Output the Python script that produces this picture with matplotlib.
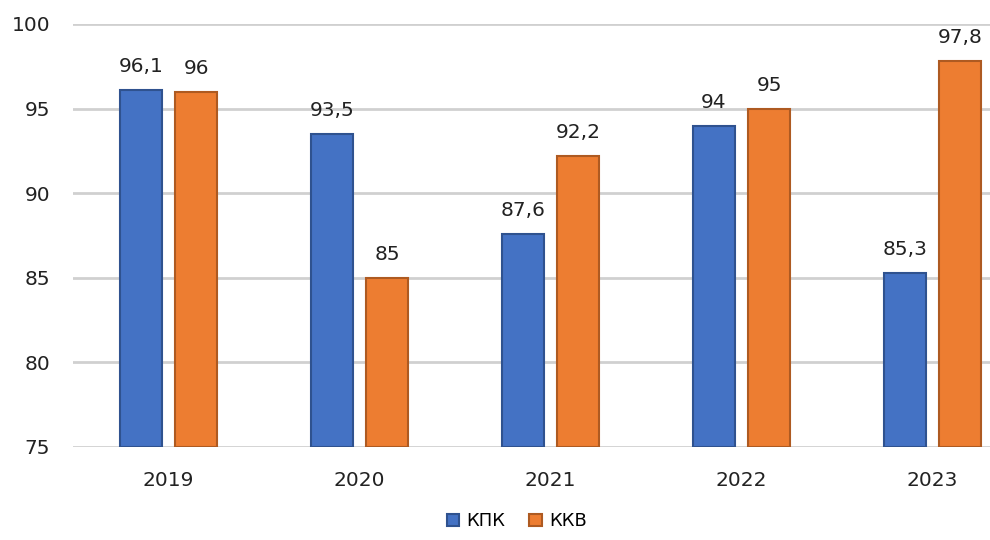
import matplotlib.pyplot as plt
import numpy as np

years = ["2019", "2020", "2021", "2022", "2023"]
kpk = [96.1, 93.5, 87.6, 94, 85.3]
kkv = [96, 85, 92.2, 95, 97.8]
yticks = [75, 80, 85, 90, 95, 100]

plt.rcParams['font.family'] = ['DejaVu Sans']

fig = plt.figure(figsize=(9.9, 5.4), dpi=100)
ax = fig.add_axes([73 / 990, 1 - 447 / 540, 1 - 73 / 990, (447 - 24) / 540])

x = np.arange(len(years))
w = 0.22
off = 0.144
b1 = ax.bar(x - off, np.array(kpk) - 75, w, bottom=75, color="#4472C4",
            edgecolor="#2F528F", linewidth=1.5, label="КПК", zorder=3)
b2 = ax.bar(x + off, np.array(kkv) - 75, w, bottom=75, color="#ED7D31",
            edgecolor="#AE5A21", linewidth=1.5, label="ККВ", zorder=3)

def fmt(v):
    s = f"{v:g}"
    return s.replace(".", ",")

for xs, vals in ((x - off, kpk), (x + off, kkv)):
    for xi, v in zip(xs, vals):
        ax.annotate(fmt(v), (xi, v), xytext=(0, 10), textcoords="offset points",
                    ha="center", va="bottom", fontsize=14.5, color="#222222", zorder=4)

ax.set_xlim(-0.5, (990 - 73) / 191 - 0.5)
ax.set_ylim(75, 100)
ax.set_yticks(yticks)
ax.set_xticks(x)
ax.set_xticklabels(years)
ax.yaxis.grid(True, color="#D0D0D0", linewidth=2)
ax.set_axisbelow(True)
for s in ax.spines.values():
    s.set_visible(False)
ax.tick_params(axis="both", length=0, labelsize=14.5, colors="#222222")
ax.tick_params(axis="y", pad=16.5)
ax.tick_params(axis="x", pad=17)

fig.legend(handles=[b1, b2], loc="lower center", bbox_to_anchor=(0.522, -0.012),
           ncol=2, frameon=False, fontsize=13, handlelength=0.7, handleheight=0.6,
           columnspacing=1.3, handletextpad=0.4)

fig.savefig("out.png", dpi=100)
